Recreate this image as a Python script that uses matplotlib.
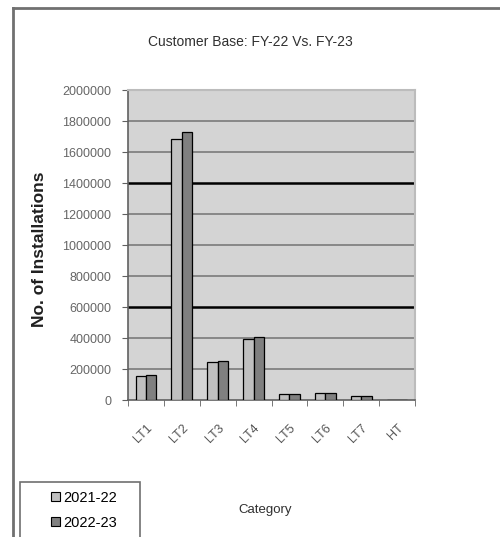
import numpy as np
import matplotlib
matplotlib.use("Agg")
import matplotlib.pyplot as plt
from matplotlib.patches import Patch, Rectangle
from matplotlib.lines import Line2D

plt.rcParams['font.family'] = ['Liberation Sans', 'DejaVu Sans']

categories = ['LT1', 'LT2', 'LT3', 'LT4', 'LT5', 'LT6', 'LT7', 'HT']
fy22 = [158000, 1682000, 248000, 392000, 40000, 47000, 26000, 2000]
fy23 = [160000, 1727000, 250000, 405000, 41000, 48000, 27000, 2500]
series_names = ['2021-22', '2022-23']

fig = plt.figure(figsize=(5.0, 5.37), dpi=100)

# Rahmen um die Grafik (nur oben und links sichtbar)
fig.add_artist(Line2D([0.026, 1.0], [0.985, 0.985], color='#707070', lw=2))
fig.add_artist(Line2D([0.026, 0.026], [0.985, 0.0], color='#707070', lw=2))

ax = fig.add_axes([0.256, 0.255, 0.574, 0.5773])
ax.set_facecolor('#d4d4d4')

x = np.arange(len(categories))
w = 0.29
ax.bar(x - w / 2, fy22, w, color='#c0c0c0', edgecolor='black', linewidth=0.9, zorder=3)
ax.bar(x + w / 2, fy23, w, color='#808080', edgecolor='black', linewidth=0.9, zorder=3)

# Gitterlinien
for v in range(200000, 2000001, 200000):
    if v in (600000, 1400000):
        ax.axhline(v, color='black', lw=1.8, zorder=1)
    else:
        ax.axhline(v, color='#7a7a7a', lw=1.2, zorder=1)

ax.set_xlim(-0.5, len(categories) - 0.5)
ax.set_ylim(0, 2000000)
ax.set_yticks(range(0, 2000001, 200000))
ax.set_yticklabels([str(v) for v in range(0, 2000001, 200000)], fontsize=9, color='#666666')
ax.tick_params(axis='y', length=4, color='#606060', pad=8)

ax.set_xticks(x)
ax.set_xticklabels(categories, rotation=45, ha='right', rotation_mode='anchor',
                   fontsize=9, color='#555555')
ax.tick_params(axis='x', which='major', length=0, pad=16)
ax.set_xticks(np.arange(-0.5, len(categories)), minor=True)
ax.tick_params(axis='x', which='minor', length=4, color='#606060')

for s in ['left', 'bottom']:
    ax.spines[s].set_color('#606060')
    ax.spines[s].set_linewidth(1.2)
for s in ['top', 'right']:
    ax.spines[s].set_color('#bcbcbc')
    ax.spines[s].set_linewidth(1.5)

fig.text(0.5, 0.922, 'Customer Base: FY-22 Vs. FY-23', ha='center', va='center',
         fontsize=10, color='#303030')
fig.text(0.08, 0.536, 'No. of Installations', rotation=90, ha='center', va='center',
         fontsize=12.5, fontweight='bold', color='#202020')
fig.text(0.53, 0.05, 'Category', ha='center', va='center', fontsize=9.5, color='#303030')

# Legendenkasten
fig.add_artist(Rectangle((0.04, -0.02), 0.24, 0.1224, transform=fig.transFigure,
                         facecolor='white', edgecolor='#707070', lw=1.2))
handles = [Patch(facecolor='#c0c0c0', edgecolor='black', lw=0.8),
           Patch(facecolor='#808080', edgecolor='black', lw=0.8)]
leg = fig.legend(handles, series_names, loc='upper left', bbox_to_anchor=(0.085, 0.1024),
                 frameon=False, fontsize=10.5, handlelength=0.6,
                 handleheight=0.6, handletextpad=0.25, borderpad=0.6, labelspacing=0.75,
                 borderaxespad=0.0)

fig.savefig('out.png', dpi=100)
